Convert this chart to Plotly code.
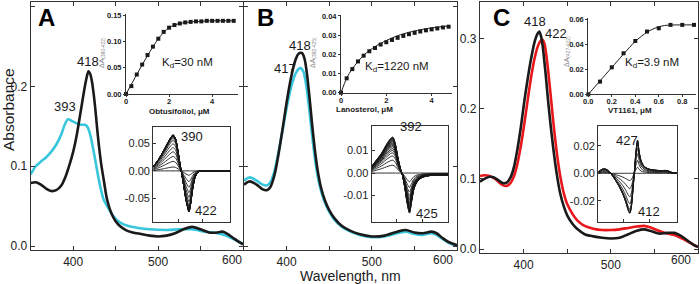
import plotly.graph_objects as go

# ---------------- data: main spectra ----------------
a_black_wl = [350, 356, 362, 368, 374, 380, 386, 391, 396, 400, 404, 408, 412, 415, 418, 420, 422, 424, 426, 428,
              430, 433, 436, 440, 445, 450, 455, 462, 470, 480, 490, 500, 510, 520, 530, 540, 550, 560, 570, 576,
              582, 590, 600]
a_black_abs = [0.079, 0.080, 0.077, 0.072, 0.069, 0.070, 0.076, 0.087, 0.103, 0.118, 0.138, 0.163, 0.189, 0.207,
               0.219, 0.216, 0.207, 0.192, 0.173, 0.150, 0.129, 0.103, 0.083, 0.058, 0.041, 0.031, 0.025, 0.020,
               0.017, 0.015, 0.013, 0.012, 0.013, 0.016, 0.021, 0.024, 0.021, 0.017, 0.017, 0.018, 0.015, 0.009,
               0.002]
a_cyan_wl = [350, 356, 362, 368, 374, 380, 386, 390, 394, 398, 402, 406, 410, 414, 417, 420, 423, 426, 429, 432,
             436, 440, 445, 450, 456, 465, 475, 490, 510, 525, 540, 555, 570, 580, 590, 600]
a_cyan_abs = [0.090, 0.100, 0.106, 0.111, 0.118, 0.127, 0.140, 0.152, 0.159, 0.157, 0.155, 0.153, 0.152, 0.152,
              0.149, 0.140, 0.125, 0.108, 0.090, 0.074, 0.058, 0.050, 0.041, 0.034, 0.029, 0.025, 0.023, 0.021,
              0.020, 0.021, 0.021, 0.018, 0.016, 0.013, 0.008, 0.003]

b_wl = [350, 356, 360, 366, 372, 377, 381, 386, 390, 395, 400, 405, 410, 414, 418, 421, 424, 427, 430, 433, 436,
        440, 445, 450, 456, 465, 475, 485, 500, 515, 530, 540, 550, 560, 570, 576, 583, 590, 600]
b_black_abs = [0.077, 0.081, 0.080, 0.076, 0.071, 0.070, 0.074, 0.090, 0.112, 0.145, 0.180, 0.210, 0.232, 0.241,
               0.242, 0.235, 0.215, 0.185, 0.152, 0.122, 0.098, 0.075, 0.057, 0.045, 0.035, 0.025, 0.019, 0.015,
               0.012, 0.013, 0.018, 0.020, 0.017, 0.016, 0.018, 0.016, 0.010, 0.005, 0.001]
b_cyan_wl = [350, 356, 360, 366, 372, 377, 381, 386, 390, 395, 400, 405, 410, 414, 417, 420, 423, 426, 429, 432,
             435, 439, 444, 450, 456, 465, 475, 485, 500, 515, 530, 540, 550, 560, 570, 576, 583, 590, 600]
b_cyan_abs = [0.082, 0.086, 0.085, 0.081, 0.077, 0.076, 0.080, 0.095, 0.115, 0.143, 0.173, 0.198, 0.215, 0.222,
              0.223, 0.218, 0.202, 0.177, 0.148, 0.120, 0.097, 0.075, 0.057, 0.043, 0.033, 0.024, 0.018, 0.014,
              0.011, 0.012, 0.016, 0.018, 0.015, 0.014, 0.016, 0.014, 0.009, 0.004, 0.000]

c_wl = [350, 355, 361, 366, 371, 376, 381, 385, 389, 393, 397, 401, 405, 409, 413, 416, 418, 420, 422, 424, 426,
        428, 430, 432, 435, 438, 442, 446, 450, 456, 462, 470, 480, 490, 500, 510, 520, 530, 538, 545, 555, 565,
        573, 580, 588, 595, 600]
c_black_abs = [0.096, 0.100, 0.103, 0.102, 0.098, 0.094, 0.095, 0.102, 0.117, 0.143, 0.175, 0.212, 0.245, 0.274,
               0.297, 0.307, 0.310, 0.303, 0.288, 0.265, 0.240, 0.212, 0.188, 0.165, 0.134, 0.107, 0.079, 0.061,
               0.048, 0.036, 0.028, 0.021, 0.018, 0.016, 0.015, 0.016, 0.021, 0.026, 0.028, 0.026, 0.022, 0.023,
               0.023, 0.019, 0.012, 0.006, 0.003]
c_red_wl = [350, 355, 361, 366, 371, 376, 381, 385, 389, 393, 397, 401, 405, 409, 413, 417, 420, 422, 424, 426,
            428, 430, 432, 435, 438, 442, 446, 450, 456, 462, 470, 480, 490, 500, 510, 520, 530, 538, 545, 555,
            565, 573, 580, 588, 595, 600]
c_red_abs = [0.104, 0.105, 0.104, 0.101, 0.096, 0.091, 0.090, 0.094, 0.104, 0.122, 0.148, 0.180, 0.215, 0.248,
             0.274, 0.291, 0.297, 0.298, 0.292, 0.277, 0.256, 0.232, 0.207, 0.170, 0.138, 0.104, 0.080, 0.064,
             0.050, 0.040, 0.033, 0.029, 0.027, 0.027, 0.028, 0.030, 0.032, 0.033, 0.031, 0.026, 0.022, 0.020,
             0.016, 0.011, 0.006, 0.003]

# ---------------- data: binding insets ----------------
a_conc = [0, 0.25, 0.5, 0.75, 1.0, 1.25, 1.5, 1.75, 2.0, 2.25, 2.5, 2.75, 3.0, 3.25, 3.5, 3.75, 4.0, 4.25, 4.5,
          4.75, 5.0]
a_dA = [0, 0.015, 0.037, 0.056, 0.074, 0.090, 0.105, 0.118, 0.126, 0.131, 0.134, 0.136, 0.137, 0.138, 0.138,
        0.139, 0.139, 0.139, 0.139, 0.139, 0.139]
a_fit_conc = [0, 0.5, 1.0, 1.5, 1.75, 2.0, 2.25, 2.5, 3.0, 3.5, 4.0, 5.0]
a_fit_dA = [0, 0.037, 0.073, 0.105, 0.117, 0.126, 0.131, 0.134, 0.137, 0.138, 0.139, 0.139]

b_conc = [0, 0.25, 0.5, 0.75, 1.0, 1.25, 1.5, 1.75, 2.0, 2.25, 2.5, 2.75, 3.0, 3.25, 3.5, 3.75, 4.0, 4.25, 4.5,
          4.75]
b_dA = [0, 0.0075, 0.0123, 0.0163, 0.0193, 0.0216, 0.0233, 0.0251, 0.0263, 0.0275, 0.0286, 0.0296, 0.0305,
        0.0312, 0.0319, 0.0325, 0.0330, 0.0335, 0.0340, 0.0344]
b_fit_conc = [0, 0.25, 0.5, 1.0, 1.5, 2.0, 2.5, 3.0, 3.5, 4.0, 4.75]
b_fit_dA = [0, 0.0075, 0.0125, 0.0195, 0.0240, 0.0272, 0.0297, 0.0315, 0.0328, 0.0338, 0.0348]

c_conc = [0, 0.1, 0.2, 0.3, 0.4, 0.5, 0.6, 0.7, 0.8, 0.9]
c_dA = [0, 0.0101, 0.0215, 0.0327, 0.0425, 0.0500, 0.0526, 0.0553, 0.0553, 0.0553]
c_fit_conc = [0, 0.1, 0.2, 0.3, 0.4, 0.5, 0.55, 0.6, 0.65, 0.7, 0.8, 0.9]
c_fit_dA = [0, 0.0107, 0.0214, 0.032, 0.0422, 0.0495, 0.052, 0.0538, 0.0548, 0.0552, 0.0553, 0.0553]

# ---------------- data: difference spectra (largest titration step) ----------------
a_diff_wl = [350, 360, 370, 380, 386, 390, 395, 400, 404, 408, 412, 416, 420, 422, 425, 430, 435, 440, 445, 450,
             505]
a_diff_max = [0.008, 0.020, 0.035, 0.052, 0.061, 0.065, 0.058, 0.035, 0.012, -0.008, -0.030, -0.052, -0.068,
              -0.074, -0.062, -0.030, -0.010, -0.003, 0.0, 0.0, 0.0]
b_diff_wl = [350, 360, 370, 380, 388, 392, 397, 402, 407, 411, 416, 420, 425, 429, 434, 440, 450, 470, 502]
b_diff_max = [0.003, 0.006, 0.009, 0.013, 0.0155, 0.016, 0.013, 0.007, 0.002, -0.001, -0.007, -0.013, -0.0178,
              -0.013, -0.007, -0.004, -0.002, -0.001, -0.001]
c_diff_wl = [350, 358, 365, 372, 380, 390, 398, 404, 409, 412, 415, 418, 421, 424, 427, 430, 434, 440, 450, 470,
             485, 495, 505]
c_diff_max = [0.001, 0.003, 0.003, 0.001, -0.003, -0.009, -0.015, -0.021, -0.027, -0.029, -0.024, -0.012, 0.002,
              0.016, 0.024, 0.016, 0.009, 0.005, 0.003, 0.002, 0.002, 0.0005, 0.0]

# ---------------- helpers ----------------
W, H = 700, 284
FONT = "Liberation Sans, Arial, sans-serif"
INK = "#1a1a1a"
CYAN = "#38c6dc"
RED = "#e8171b"


def dx(a, b):
    return [a / W, b / W]


def dy(top, bottom):
    return [1 - bottom / H, 1 - top / H]


def axis(domain, rng, anchor, **kw):
    d = dict(domain=domain, range=rng, anchor=anchor, showline=True, linecolor="#333", linewidth=1.3,
             showgrid=False, zeroline=False, ticks="inside", ticklen=4, tickcolor="#333", tickwidth=1.2,
             automargin=False, tickfont=dict(family=FONT, size=12, color="#222"))
    d.update(kw)
    return d


fig = go.Figure()


def line(x, y, xa, ya, color, width, shape="spline"):
    fig.add_trace(go.Scatter(x=x, y=y, xaxis=xa, yaxis=ya, mode="lines",
                             line=dict(color=color, width=width, shape=shape, smoothing=0.8),
                             showlegend=False, hoverinfo="skip"))


# main spectra
line(a_cyan_wl, a_cyan_abs, "x", "y", CYAN, 2.6)
line(a_black_wl, a_black_abs, "x", "y", INK, 2.6)
line(b_cyan_wl, b_cyan_abs, "x2", "y2", CYAN, 2.6)
line(b_wl, b_black_abs, "x2", "y2", INK, 2.6)
line(c_red_wl, c_red_abs, "x3", "y3", RED, 2.6)
line(c_wl, c_black_abs, "x3", "y3", INK, 2.6)

# binding insets
for conc, dA, fx, fy, xa, ya in [(a_conc, a_dA, a_fit_conc, a_fit_dA, "x4", "y4"),
                                 (b_conc, b_dA, b_fit_conc, b_fit_dA, "x5", "y5"),
                                 (c_conc, c_dA, c_fit_conc, c_fit_dA, "x6", "y6")]:
    line(fx, fy, xa, ya, INK, 1.0)
    fig.add_trace(go.Scatter(x=conc, y=dA, xaxis=xa, yaxis=ya, mode="markers",
                             marker=dict(symbol="square", size=4, color=INK),
                             showlegend=False, hoverinfo="skip", cliponaxis=False))

# difference spectra insets: each titration step scaled by its binding amplitude
for wl, shape, dA, xa, ya in [(a_diff_wl, a_diff_max, a_dA, "x7", "y7"),
                              (b_diff_wl, b_diff_max, b_dA, "x8", "y8"),
                              (c_diff_wl, c_diff_max, c_dA, "x9", "y9")]:
    top = max(dA)
    for v in dA:
        line(wl, [s * v / top for s in shape], xa, ya, INK, 0.9)

main_x = dict(tickvals=[400, 500], ticktext=["400", "500"], mirror="ticks",
              minor=dict(tickvals=[450, 550, 600], ticks="inside", ticklen=4, tickcolor="#333", tickwidth=1.2))
ytick_main = dict(tickvals=[0, 0.1, 0.2, 0.3], ticktext=["0.0", "0.1", "0.2", "0.3"], mirror="ticks")
small = dict(family=FONT, size=7.5, color="#222", weight="bold")
inset_x = dict(ticks="outside", ticklen=2, linewidth=1, tickfont=small, ticklabelstandoff=-2)
inset_y = dict(ticks="outside", ticklen=2, linewidth=1, tickfont=small)

layout_axes = dict(
    xaxis=axis(dx(30.7, 243), [350, 600], "y", **main_x),
    yaxis=axis(dy(2, 250), [-0.005, 0.306], "x", **ytick_main),
    xaxis2=axis(dx(244, 457), [350, 600], "y2", **main_x),
    yaxis2=axis(dy(2, 250), [-0.005, 0.306], "x2", tickvals=[0, 0.1, 0.2, 0.3], showticklabels=False,
                mirror="ticks"),
    xaxis3=axis(dx(480, 698), [350, 600], "y3", **main_x),
    yaxis3=axis(dy(2, 253), [-0.0057, 0.352], "x3", **ytick_main),
    # binding insets
    xaxis4=axis(dx(126, 238), [0, 5.2], "y4", tickvals=[0, 2, 4], **inset_x),
    yaxis4=axis(dy(14, 94), [0, 0.152], "x4", tickvals=[0, 0.05, 0.1, 0.15],
                ticktext=["0.00", "0.05", "0.10", "0.15"], **inset_y),
    xaxis5=axis(dx(341, 452), [0, 4.9], "y5", tickvals=[0, 2, 4], **inset_x),
    yaxis5=axis(dy(15, 92.7), [0, 0.0405], "x5", tickvals=[0, 0.01, 0.02, 0.03, 0.04],
                ticktext=["0.00", "0.01", "0.02", "0.03", "0.04"], **inset_y),
    xaxis6=axis(dx(588.3, 696), [0, 0.917], "y6", tickvals=[0, 0.2, 0.4, 0.6, 0.8],
                ticktext=["0.0", "0.2", "0.4", "0.6", "0.8"], **inset_x),
    yaxis6=axis(dy(17.5, 94.3), [0, 0.0612], "x6", tickvals=[0, 0.02, 0.04, 0.06],
                ticktext=["0.00", "0.02", "0.04", "0.06"], **inset_y),
    # difference insets
    xaxis7=axis(dx(153.3, 230), [350, 505], "y7", mirror=True, tickvals=[400, 450], showticklabels=False,
                ticklen=3),
    yaxis7=axis(dy(126.7, 221.7), [-0.092, 0.08], "x7", mirror=True, ticklen=3, tickvals=[-0.05, 0, 0.05],
                ticktext=["-0.05", "0.00", "0.05"], tickfont=dict(family=FONT, size=11, color="#222")),
    xaxis8=axis(dx(371.7, 448.3), [350, 502], "y8", mirror=True, tickvals=[400, 450], showticklabels=False,
                ticklen=3),
    yaxis8=axis(dy(126, 221.7), [-0.0216, 0.0209], "x8", mirror=True, ticklen=3, tickvals=[-0.01, 0, 0.01],
                ticktext=["-0.01", "0.00", "0.01"], tickfont=dict(family=FONT, size=11, color="#222")),
    xaxis9=axis(dx(598.3, 677.3), [350, 505], "y9", mirror=True, tickvals=[400, 450], showticklabels=False,
                ticklen=3),
    yaxis9=axis(dy(126, 221.7), [-0.0352, 0.0344], "x9", mirror=True, ticklen=3, tickvals=[-0.02, 0, 0.02],
                ticktext=["-0.02", "0.00", "0.02"], tickfont=dict(family=FONT, size=11, color="#222")),
)

annotations = []


def ann(text, xp, yp, size, color="#1a1a1a", angle=0, weight="normal", xanchor="center"):
    annotations.append(dict(text=text, x=xp / W, y=1 - yp / H, xref="paper", yref="paper", showarrow=False,
                            xanchor=xanchor, yanchor="middle", textangle=angle,
                            font=dict(family=FONT, size=size, color=color, weight=weight)))


for letter, xp in [("A", 46.7), ("B", 265), ("C", 501.7)]:
    ann(letter, xp, 17, 24, weight="bold", color="#000")

for t, xp, yp in [("418", 88.3, 61.7), ("393", 65, 106.7), ("418", 300, 45), ("417", 285, 68.3),
                  ("418", 535, 21.7), ("422", 556, 33.3),
                  ("390", 192, 136.7), ("422", 206, 210), ("392", 411, 126.7), ("425", 427, 213.3),
                  ("427", 627, 140), ("412", 649, 211.7)]:
    ann(t, xp, yp, 13)

ann("K<sub>d</sub>=30 nM", 187, 63, 11.5)
ann("K<sub>d</sub>=1220 nM", 397, 66.7, 11.5)
ann("K<sub>d</sub>=3.9 nM", 652, 63.3, 11.5)
ann("Obtusifoliol, μM", 180, 111.5, 8, weight="bold")
ann("Lanosterol, μM", 364, 109.5, 8, weight="bold")
ann("VT1161, μM", 630, 110.5, 8, weight="bold")
ann("ΔA<sub>(390-422)</sub>", 102, 53, 7, color="#888", angle=-90)
ann("ΔA<sub>(392-425)</sub>", 313, 53, 7, color="#888", angle=-90)
ann("ΔA<sub>(427-412)</sub>", 567, 52, 7, color="#888", angle=-90)
ann("Absorbance", 9, 110, 15.5, angle=-90)
ann("Wavelength, nm", 350, 276, 14)
for xp in [232, 443, 681]:
    ann("600", xp, 259.5, 12, color="#222")

fig.update_layout(width=W, height=H, margin=dict(l=0, r=0, t=0, b=0, autoexpand=False), paper_bgcolor="white",
                  plot_bgcolor="rgba(0,0,0,0)", showlegend=False, annotations=annotations, **layout_axes)

fig.write_html("out.html", config={"displayModeBar": False},
               post_script="document.body.style.margin='0';document.body.style.padding='0';"
                           "document.body.style.overflow='hidden';")
